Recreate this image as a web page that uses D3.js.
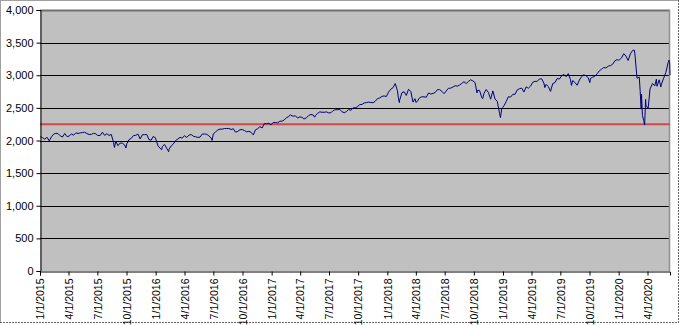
<!DOCTYPE html>
<html><head><meta charset="utf-8">
<script src="https://cdn.jsdelivr.net/npm/d3@7"></script>
<style>body{margin:0;background:#fff}svg{display:block}</style>
</head><body>
<svg id="c" width="681" height="325"></svg>
<script>
const dates = [
"2015-01-02","2015-01-09","2015-01-16","2015-01-23","2015-01-30","2015-02-06","2015-02-13","2015-02-20","2015-02-27","2015-03-06","2015-03-13","2015-03-20","2015-03-27","2015-04-03","2015-04-10","2015-04-17","2015-04-24","2015-05-01","2015-05-08","2015-05-15","2015-05-22","2015-05-29","2015-06-05","2015-06-12","2015-06-19","2015-06-26","2015-07-02","2015-07-10","2015-07-17","2015-07-24","2015-07-31","2015-08-07","2015-08-14","2015-08-21","2015-08-24","2015-08-28","2015-09-04","2015-09-11","2015-09-18","2015-09-25","2015-09-29","2015-10-02","2015-10-09","2015-10-16","2015-10-23","2015-10-30","2015-11-06","2015-11-13","2015-11-20","2015-11-27","2015-12-04","2015-12-11","2015-12-18","2015-12-24","2015-12-31",
"2016-01-08","2016-01-15","2016-01-20","2016-01-22","2016-01-29","2016-02-05","2016-02-11","2016-02-12","2016-02-19","2016-02-26","2016-03-04","2016-03-11","2016-03-18","2016-03-24","2016-04-01","2016-04-08","2016-04-15","2016-04-22","2016-04-29","2016-05-06","2016-05-13","2016-05-20","2016-05-27","2016-06-03","2016-06-10","2016-06-17","2016-06-24","2016-06-27","2016-07-01","2016-07-08","2016-07-15","2016-07-22","2016-07-29","2016-08-05","2016-08-12","2016-08-19","2016-08-26","2016-09-02","2016-09-09","2016-09-16","2016-09-23","2016-09-30","2016-10-07","2016-10-14","2016-10-21","2016-10-28","2016-11-04","2016-11-11","2016-11-18","2016-11-25","2016-12-02","2016-12-09","2016-12-16","2016-12-23","2016-12-30",
"2017-01-06","2017-01-13","2017-01-20","2017-01-27","2017-02-03","2017-02-10","2017-02-17","2017-02-24","2017-03-01","2017-03-03","2017-03-10","2017-03-17","2017-03-24","2017-03-31","2017-04-07","2017-04-13","2017-04-21","2017-04-28","2017-05-05","2017-05-12","2017-05-17","2017-05-19","2017-05-26","2017-06-02","2017-06-09","2017-06-16","2017-06-23","2017-06-30","2017-07-07","2017-07-14","2017-07-21","2017-07-28","2017-08-04","2017-08-11","2017-08-18","2017-08-25","2017-09-01","2017-09-08","2017-09-15","2017-09-22","2017-09-29","2017-10-06","2017-10-13","2017-10-20","2017-10-27","2017-11-03","2017-11-10","2017-11-17","2017-11-24","2017-12-01","2017-12-08","2017-12-15","2017-12-22","2017-12-29",
"2018-01-05","2018-01-12","2018-01-19","2018-01-26","2018-02-02","2018-02-05","2018-02-08","2018-02-09","2018-02-16","2018-02-23","2018-03-02","2018-03-09","2018-03-16","2018-03-23","2018-03-29","2018-04-02","2018-04-06","2018-04-13","2018-04-20","2018-04-27","2018-05-04","2018-05-11","2018-05-18","2018-05-25","2018-06-01","2018-06-08","2018-06-15","2018-06-22","2018-06-29","2018-07-06","2018-07-13","2018-07-20","2018-07-27","2018-08-03","2018-08-10","2018-08-17","2018-08-24","2018-08-31","2018-09-07","2018-09-14","2018-09-21","2018-09-28","2018-10-05","2018-10-11","2018-10-12","2018-10-19","2018-10-26","2018-10-29","2018-11-02","2018-11-09","2018-11-16","2018-11-23","2018-11-30","2018-12-07","2018-12-14","2018-12-21","2018-12-24","2018-12-28","2018-12-31",
"2019-01-04","2019-01-11","2019-01-18","2019-01-25","2019-02-01","2019-02-08","2019-02-15","2019-02-22","2019-03-01","2019-03-08","2019-03-15","2019-03-22","2019-03-29","2019-04-05","2019-04-12","2019-04-18","2019-04-26","2019-05-03","2019-05-10","2019-05-13","2019-05-17","2019-05-24","2019-05-31","2019-06-07","2019-06-14","2019-06-21","2019-06-28","2019-07-05","2019-07-12","2019-07-19","2019-07-26","2019-08-02","2019-08-05","2019-08-09","2019-08-16","2019-08-23","2019-08-30","2019-09-06","2019-09-13","2019-09-20","2019-09-27","2019-10-02","2019-10-04","2019-10-11","2019-10-18","2019-10-25","2019-11-01","2019-11-08","2019-11-15","2019-11-22","2019-11-29","2019-12-06","2019-12-13","2019-12-20","2019-12-27","2019-12-31",
"2020-01-03","2020-01-10","2020-01-17","2020-01-24","2020-01-31","2020-02-07","2020-02-14","2020-02-19","2020-02-21","2020-02-28","2020-03-06","2020-03-09","2020-03-12","2020-03-13","2020-03-16","2020-03-20","2020-03-23","2020-03-26","2020-03-27","2020-04-03","2020-04-09","2020-04-17","2020-04-24","2020-04-29","2020-05-01","2020-05-08","2020-05-13","2020-05-15","2020-05-22","2020-05-29","2020-06-05","2020-06-08","2020-06-09","2020-06-10","2020-06-11"
];
const closes = [
2058,2044,2019,2051,1995,2055,2097,2110,2105,2071,2053,2108,2061,2067,2102,2081,2117,2108,2116,2123,2126,2107,2092,2094,2110,2102,2076,2077,2127,2079,2104,2078,2092,1971,1893,1989,1921,1961,1958,1932,1884,1951,2015,2033,2075,2079,2099,2023,2089,2090,2092,2012,2006,2061,2044,
1922,1880,1859,1907,1940,1880,1829,1865,1917,1948,2000,2022,2050,2035,2073,2048,2081,2092,2065,2057,2047,2052,2099,2099,2096,2071,2037,2001,2103,2130,2162,2175,2174,2183,2184,2184,2169,2180,2128,2139,2165,2168,2153,2133,2141,2126,2085,2164,2182,2213,2192,2260,2258,2264,2239,
2277,2275,2271,2295,2297,2316,2351,2367,2396,2383,2373,2378,2344,2363,2355,2329,2349,2384,2399,2391,2357,2382,2416,2439,2432,2433,2438,2423,2425,2459,2472,2472,2477,2441,2426,2443,2477,2461,2500,2502,2519,2549,2553,2575,2581,2588,2582,2579,2602,2642,2652,2676,2683,2674,
2743,2786,2810,2873,2762,2649,2581,2620,2732,2747,2691,2786,2752,2588,2641,2582,2604,2656,2670,2670,2663,2728,2713,2721,2735,2779,2780,2755,2718,2760,2801,2802,2819,2840,2833,2850,2875,2902,2872,2905,2930,2914,2885,2729,2767,2768,2658,2641,2723,2781,2736,2633,2760,2633,2600,2417,2351,2486,2507,
2532,2596,2671,2665,2707,2708,2776,2793,2804,2743,2822,2801,2834,2893,2907,2905,2940,2946,2881,2812,2860,2826,2752,2873,2887,2950,2942,2990,3014,2977,3026,2932,2844,2919,2889,2847,2926,2979,3007,2992,2962,2887,2952,2970,2986,3023,3067,3093,3120,3110,3141,3146,3169,3221,3240,3231,
3235,3265,3330,3295,3226,3328,3380,3386,3338,2954,2972,2747,2481,2711,2386,2305,2237,2630,2541,2489,2790,2875,2837,2939,2831,2930,2820,2864,2955,3044,3194,3232,3207,3190,3002
];
const referenceLevel = 2250;
const yTicks = [0,500,1000,1500,2000,2500,3000,3500,4000];
const xTickLabels = ["1/1/2015","4/1/2015","7/1/2015","10/1/2015","1/1/2016","4/1/2016","7/1/2016","10/1/2016","1/1/2017","4/1/2017","7/1/2017","10/1/2017","1/1/2018","4/1/2018","7/1/2018","10/1/2018","1/1/2019","4/1/2019","7/1/2019","10/1/2019","1/1/2020","4/1/2020"];

const parse = d3.timeParse("%Y-%m-%d");
const parseTick = d3.timeParse("%m/%d/%Y");
const data = dates.map((d,i)=>({date:parse(d), v:closes[i]}));
const tickDates = xTickLabels.map(s=>parseTick(s));

const svg = d3.select("#c");
const W=681,H=325;
const m={l:40,r:11,t:10,b:54};
const pw=W-m.l-m.r, ph=H-m.t-m.b;

// chart area border
svg.append("line").attr("x1",0.5).attr("x2",0.5).attr("y1",0).attr("y2",H-2).attr("stroke","#a0a0a0");
svg.append("line").attr("x1",0).attr("x2",W-2).attr("y1",0.5).attr("y2",0.5).attr("stroke","#a0a0a0");
svg.append("line").attr("x1",W-2.5).attr("x2",W-2.5).attr("y1",0).attr("y2",H-2).attr("stroke","#666").attr("stroke-dasharray","2,1");
svg.append("line").attr("x1",0).attr("x2",W-2).attr("y1",H-2.5).attr("y2",H-2.5).attr("stroke","#666").attr("stroke-dasharray","2,1");

const x = d3.scaleTime().domain([parse("2015-01-01"), parse("2020-06-11")]).range([m.l, m.l+pw]);
const y = d3.scaleLinear().domain([0,4000]).range([m.t+ph, m.t]);

const g = svg.append("g");
g.append("rect").attr("x",m.l).attr("y",m.t).attr("width",pw).attr("height",ph).attr("fill","#c0c0c0");

// gridlines
g.selectAll("line.grid").data(yTicks.filter(t=>t>0 && t<4000)).join("line")
 .attr("x1",m.l).attr("x2",m.l+pw).attr("y1",d=>Math.round(y(d))+0.5).attr("y2",d=>Math.round(y(d))+0.5)
 .attr("stroke","#000").attr("stroke-width",1);

// plot border
g.append("line").attr("x1",m.l).attr("x2",m.l+pw).attr("y1",m.t+0.5).attr("y2",m.t+0.5).attr("stroke","#707070").attr("stroke-width",2);
g.append("line").attr("x1",m.l+pw-0.5).attr("x2",m.l+pw-0.5).attr("y1",m.t).attr("y2",m.t+ph).attr("stroke","#909090").attr("stroke-width",1.5);

// reference line
g.append("line").attr("x1",m.l).attr("x2",m.l+pw).attr("y1",y(referenceLevel)).attr("y2",y(referenceLevel))
 .attr("stroke","#d04848").attr("stroke-width",2);

// series
const line = d3.line().x(d=>x(d.date)).y(d=>y(d.v));
g.append("path").datum(data).attr("d",line).attr("fill","none").attr("stroke","#00007a").attr("stroke-width",1).attr("stroke-linejoin","round");

// y axis
const ya = d3.axisLeft(y).tickValues(yTicks).tickSize(4).tickPadding(3).tickFormat(d3.format(","));
const yg = svg.append("g").attr("transform",`translate(${m.l+0.5},0)`).call(ya);
yg.select(".domain").attr("stroke","#000");
yg.selectAll(".tick line").attr("stroke","#000");
yg.selectAll("text").attr("font-family","Liberation Sans, Arial, sans-serif").attr("font-size","11px").attr("fill","#000");

// x axis
const xa = d3.axisBottom(x).tickValues(tickDates).tickSize(4).tickFormat((d,i)=>xTickLabels[i]);
const xg = svg.append("g").attr("transform",`translate(0,${m.t+ph+0.5})`).call(xa);
xg.select(".domain").attr("stroke","#000");
xg.selectAll(".tick line").attr("stroke","#000");
xg.selectAll("text").attr("font-family","Liberation Sans, Arial, sans-serif").attr("font-size","10.5px").attr("fill","#000")
 .attr("transform","rotate(-90)").attr("text-anchor","end").attr("x",-7).attr("y",0).attr("dy","0.35em");
</script>
</body></html>
